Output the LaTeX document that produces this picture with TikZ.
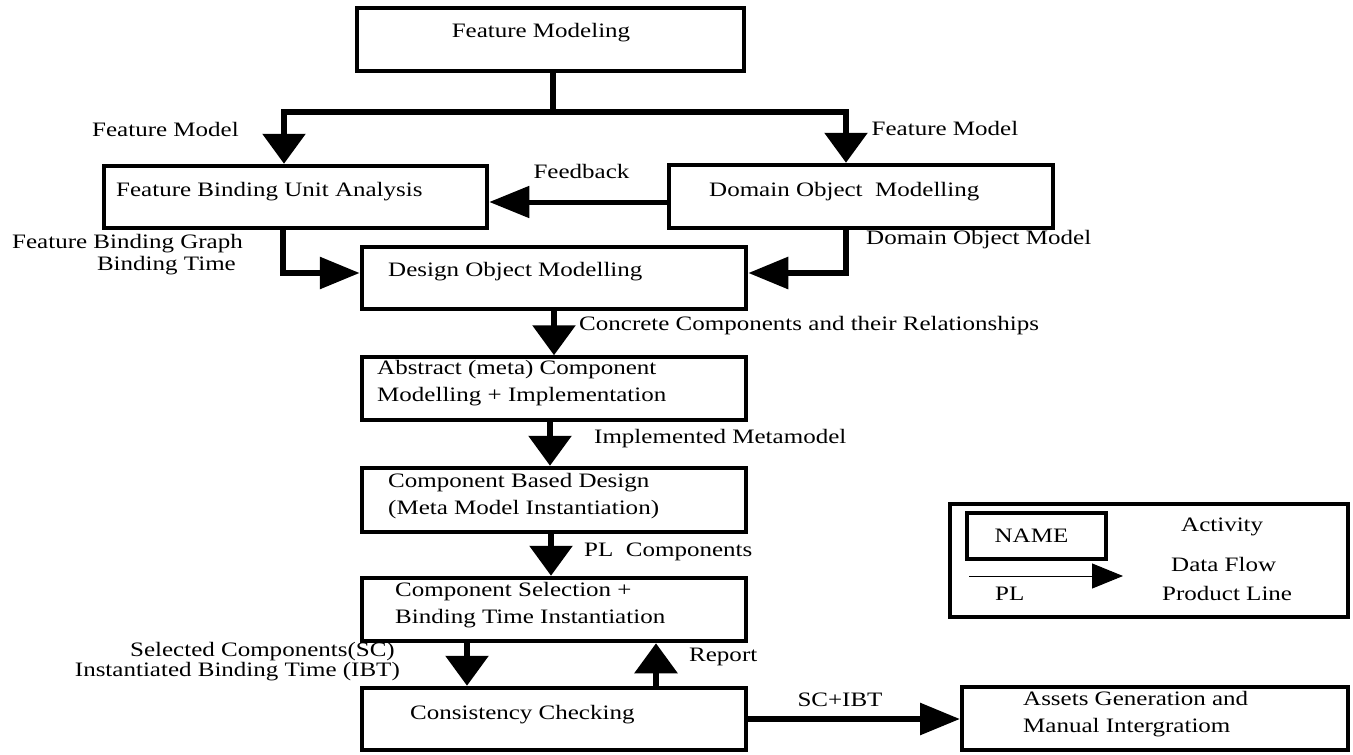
\documentclass[tikz,border=0pt]{standalone}
\usepackage{fontspec}
\setmainfont{Liberation Serif}[FakeStretch=1.22]
\usetikzlibrary{arrows.meta}
\begin{document}
\begin{tikzpicture}[x=1pt,y=-1pt,
  box/.style={draw,line width=4.5pt,inner sep=0pt,fill=white},
  txt/.style={inner sep=0pt,font=\fontsize{20.5}{27}\selectfont,align=left},
  conn/.style={line width=6pt},
  vtip/.style={-{Triangle[length=30pt,width=42pt]}},
  htip/.style={-{Triangle[length=40pt,width=31pt]}}]
\fill[white] (0,0) rectangle (1353,755);
\useasboundingbox (0,0) rectangle (1353,755);

% boxes
\node[box,minimum width=387pt,minimum height=63pt] (fm) at (550.5,39.5) {};
\node[txt] (fmT) at (541,33) {Feature Modeling};

\node[box,minimum width=383pt,minimum height=62pt] (fbu) at (295.5,197) {};
\node[txt,anchor=west] (fbuT) at (116,192) {Feature Binding Unit Analysis};

\node[box,minimum width=384pt,minimum height=63pt] (dom) at (861,196.5) {};
\node[txt,anchor=west] (domT) at (709,192) {Domain Object~ Modelling};

\node[box,minimum width=384pt,minimum height=62pt] (dsg) at (554,278) {};
\node[txt,anchor=west] (dsgT) at (388,272) {Design Object Modelling};

\node[box,line width=3.5pt,minimum width=384pt,minimum height=63pt] (abs) at (554,388.5) {};
\node[txt,anchor=west] (absT) at (377,383.5) {Abstract (meta) Component\\Modelling + Implementation};

\node[box,minimum width=384pt,minimum height=64pt] (cbd) at (554,500) {};
\node[txt,anchor=west] (cbdT) at (388,496.5) {Component Based Design\\(Meta Model Instantiation)};

\node[box,minimum width=384pt,minimum height=63pt] (cs) at (554,609.5) {};
\node[txt,anchor=west] (csT) at (395,605.5) {Component Selection +\\Binding Time Instantiation};

\node[box,minimum width=384pt,minimum height=62pt] (cc) at (554,719) {};
\node[txt,anchor=west] (ccT) at (410,715) {Consistency Checking};

\node[box,line width=4pt,minimum width=386pt,minimum height=63pt] (ag) at (1155,718.5) {};
\node[txt,anchor=west] (agT) at (1023,714) {Assets Generation and\\Manual Intergratiom};

% legend
\node[box,minimum width=398pt,minimum height=113pt] (leg) at (1149,560.5) {};
\node[box,minimum width=139pt,minimum height=46pt,font=\fontsize{20.5}{27}\selectfont] (nm) at (1036.5,536) {\hspace*{-10pt}NAME};
\node[txt,anchor=west] (lAct) at (1181,527) {Activity};
\node[txt,anchor=west] (lDF) at (1171,564) {Data Flow};
\node[txt,anchor=west] (lPL) at (1162,593) {Product Line};
\node[txt,anchor=west] (lPLs) at (995,594) {PL};
\coordinate (la1) at (969,576);
\coordinate (la2) at (1123,576);
\draw[line width=1pt,-{Triangle[length=31pt,width=25pt]}] (la1) -- (la2);

% connectors
\coordinate (j) at (553,112);
\coordinate (jl) at (284,112);
\coordinate (jr) at (846,112);
\draw[conn] (fm.south -| j) -- (j);
\draw[conn,vtip] (j) -- (jl) -- (jl |- fbu.north);
\draw[conn,vtip] (j) -- (jr) -- (jr |- dom.north);

\draw[conn,line width=5pt,htip] ([yshift=-5.5pt]dom.west) -- ([yshift=-5.5pt]dom.west -| fbu.east);

\coordinate (a1) at (283,273);
\coordinate (a2) at (846,273);
\draw[conn,htip] (fbu.south -| a1) -- (a1) -- (a1 -| dsg.west);
\draw[conn,htip] (dom.south -| a2) -- (a2) -- (a2 -| dsg.east);

\draw[conn,vtip] (dsg.south) -- (abs.north);
\draw[conn,vtip] ([xshift=-4pt]abs.south) -- ([xshift=-4pt]cbd.north);
\draw[conn,vtip] ([xshift=-3pt]cbd.south) -- ([xshift=-3pt]cs.north);
\draw[conn,vtip] ([xshift=-87pt]cs.south) -- ([xshift=-87pt]cc.north);
\draw[conn,vtip] ([xshift=102pt]cc.north) -- ([xshift=102pt]cs.south);
\draw[conn,htip] (cc.east) -- (cc.east -| ag.west);

% connector labels
\node[txt] (l1) at (165.5,129) {Feature Model};
\node[txt] (l2) at (945,128) {Feature Model};
\node[txt] (l3) at (581.5,171) {Feedback};
\node[txt,anchor=east] (l4) at (243,244) {Feature Binding Graph};
\node[txt,anchor=east] (l5) at (236,266) {Binding Time};
\node[txt,anchor=west] (l6) at (866,240) {Domain Object Model};
\node[txt,anchor=west] (l7) at (579,326) {Concrete Components and their Relationships};
\node[txt,anchor=west] (l8) at (594,439) {Implemented Metamodel};
\node[txt,anchor=west] (l9) at (584,552) {PL~ Components};
\node[txt,anchor=west] (l10) at (689,657) {Report};
\node[txt,anchor=east] (l11) at (395,652) {Selected Components(SC)};
\node[txt,anchor=east] (l12) at (400,672) {Instantiated Binding Time (IBT)};
\node[txt] (l13) at (840,700) {SC+IBT};
\end{tikzpicture}
\end{document}
